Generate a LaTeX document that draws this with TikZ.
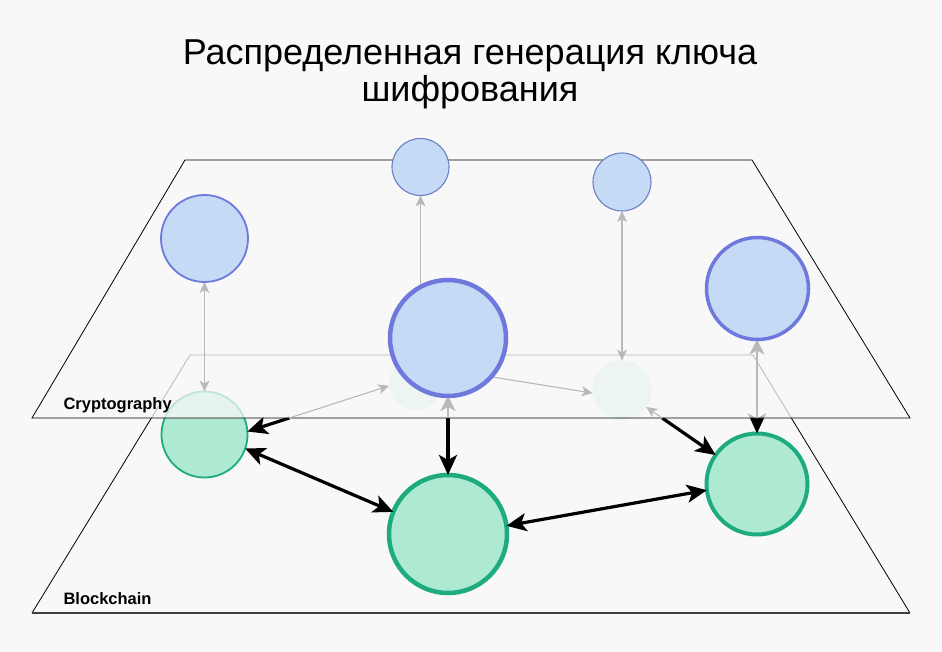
\documentclass[tikz,border=0pt]{standalone}
\usepackage{fontspec}
\setmainfont{Liberation Sans}
\usetikzlibrary{arrows.meta}
\pgfdeclarelayer{bg}
\pgfdeclarelayer{low}
\pgfdeclarelayer{veil}
\pgfsetlayers{bg,low,veil,main}
\definecolor{bgc}{HTML}{F8F8F8}
\definecolor{bfill}{HTML}{C5DAF5}
\definecolor{bline}{HTML}{6F78DC}
\definecolor{bthin}{HTML}{6C7FC4}
\definecolor{gfill}{HTML}{AEE9D2}
\definecolor{gline}{HTML}{1DAB7F}
\definecolor{grayarr}{HTML}{B9B9B9}
\tikzset{gtip/.tip={Stealth[length=11pt,width=10pt,inset=3pt]},
  mtip/.tip={Stealth[length=15pt,width=15pt,inset=4pt]},
  btip/.tip={Stealth[length=20pt,width=18pt,inset=5pt]}}
\begin{document}
\begin{tikzpicture}[x=1pt,y=-1pt,
  bnode/.style={circle,fill=bfill,draw=bline,inner sep=0pt,outer sep=0pt},
  gnode/.style={circle,fill=gfill,draw=gline,inner sep=0pt,outer sep=0pt},
  fnode/.style={circle,fill=gfill,fill opacity=0.55,inner sep=0pt,outer sep=0pt},
  plane/.style={draw=black,line width=0.8pt,line join=miter},
  bigarr/.style={draw=black,line width=3.2pt},
  thinarr/.style={draw=grayarr,line width=1.1pt},
  midarr/.style={draw=grayarr,line width=2pt},
  lbl/.style={font=\bfseries\fontsize{16.5}{19}\selectfont,anchor=base west},
  ttl/.style={font=\fontsize{36}{40}\selectfont,anchor=base}
]
\useasboundingbox (0,0) rectangle (942,652);
\begin{pgfonlayer}{bg}
  \fill[bgc] (0,0) rectangle (942,652);
\end{pgfonlayer}

% title
\node[ttl] (title1) at (470,65) {Распределенная генерация ключа};
\node[ttl] (title2) at (470,102) {шифрования};

% plane corner coordinates
\coordinate (TL) at (185,160);
\coordinate (TR) at (752,160);
\coordinate (BR) at (910,418);
\coordinate (BL) at (32,418);

% blue (cryptography) nodes
\node[bnode,minimum size=87pt,line width=1.8pt] (B1) at (204.5,238.5) {};
\node[bnode,minimum size=57pt,line width=1.1pt,draw=bthin] (B2) at (420.5,167) {};
\node[bnode,minimum size=58pt,line width=1.1pt,draw=bthin] (B3) at (622,182) {};
\node[bnode,minimum size=116pt,line width=4.5pt] (B4) at (448,338) {};
\node[bnode,minimum size=102pt,line width=3.5pt] (B5) at (757.5,288.5) {};

\begin{pgfonlayer}{low}
  % blockchain plane
  \draw[plane] (190,355) -- (753,355) -- (910,613);
  \draw[plane] (190,355) -- (32,613);
  \draw[draw=black!75,line width=1.3pt] (32,613) -- (910,613);
  % faded nodes
  \node[fnode,minimum size=54pt] (F1) at (416,383) {};
  \node[fnode,minimum size=59pt] (F2) at (622,390) {};
  % green nodes
  \node[gnode,minimum size=86pt,line width=1.8pt] (G1) at (204.5,434.5) {};
  \node[gnode,minimum size=118pt,line width=4.5pt] (G2) at (448,534) {};
  \node[gnode,minimum size=101pt,line width=4pt] (G3) at (757,484) {};
  % crossing points with the cryptography plane edge
  \coordinate (X1) at (intersection of G1.4--F1.186 and BL--BR);
  \coordinate (X2) at (intersection of G3.145--F2.-35 and BL--BR);
  \coordinate (X3) at (G2.north |- BL);
  \coordinate (X4) at (G3.north |- BL);
  % black arrows
  \draw[bigarr,btip-btip] (G1.-19) -- (G2.158);
  \draw[bigarr,btip-btip] (G2.8) -- (G3.187);
  \draw[bigarr,btip-] (G1.4) -- (X1);
  \draw[bigarr,btip-] (G3.145) -- (X2);
  \draw[bigarr,btip-] (G2.north) -- (X3);
  \draw[bigarr,btip-] (G3.north) -- (X4);
  \node[lbl] (blk) at (60,604) {Blockchain};
\end{pgfonlayer}

\begin{pgfonlayer}{veil}
  \fill[bgc,fill opacity=0.75] (TL) -- (TR) -- (BR) -- (BL) -- cycle;
  \draw[plane] (TL) -- (TR) -- (BR) -- (BL) -- cycle;
  \node[lbl] (cry) at (60,409) {Cryptography};
  % gray arrows inside the cryptography plane
  \draw[thinarr,gtip-gtip] (B1.south) -- (G1.north);
  \draw[thinarr,-gtip] (B2 |- B4.120) -- (B2.south);
  \draw[thinarr,gtip-gtip] (B3.south) -- (B3.south |- F2.north);
  \draw[thinarr,-gtip] (B4.-42) -- (F2.186);
  \draw[thinarr,-gtip] (X1) -- (F1.186);
  \draw[thinarr,-gtip] (X2) -- (F2.-35);
  \draw[midarr,-mtip] (X3) -- (B4.south);
  \draw[midarr,-mtip] (X4) -- (X4 |- B5.south);
\end{pgfonlayer}
\end{tikzpicture}
\end{document}
